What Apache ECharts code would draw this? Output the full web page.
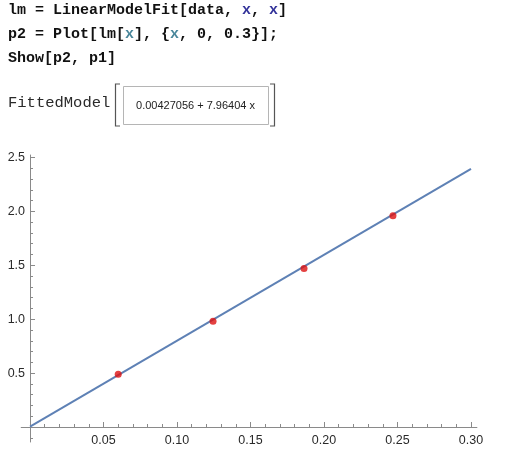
<!DOCTYPE html>
<html>
<head>
<meta charset="utf-8">
<script src="https://cdn.jsdelivr.net/npm/echarts@6/dist/echarts.min.js"></script>
<style>
html,body{margin:0;padding:0;background:#fff;}
#c{width:531px;height:449px;}
</style>
</head>
<body>
<div id="c"></div>
<script>
// ---- data ----
const pointX = [0.0600, 0.1245, 0.1864, 0.2469];
const pointY = [0.49, 0.98, 1.47, 1.96];
const fitX = [0, 0.3];
const fitY = [0.00427, 2.39348];
const xMajorTicks = [0.05, 0.10, 0.15, 0.20, 0.25, 0.30];
const xMinorTicks = [0.01,0.02,0.03,0.04,0.06,0.07,0.08,0.09,0.11,0.12,0.13,0.14,0.16,0.17,0.18,0.19,0.21,0.22,0.23,0.24,0.26,0.27,0.28,0.29];
const yMajorTicks = [0.5, 1.0, 1.5, 2.0, 2.5];
const yMinorTicks = [-0.1,0.1,0.2,0.3,0.4,0.6,0.7,0.8,0.9,1.1,1.2,1.3,1.4,1.6,1.7,1.8,1.9,2.1,2.2,2.3,2.4];
const fitLabel = "0.00427056 + 7.96404 x";
const codeLines = [
  [["lm = LinearModelFit[data, ", "k"], ["x", "v"], [", ", "k"], ["x", "v"], ["]", "k"]],
  [["p2 = Plot[lm[", "k"], ["x", "l"], ["], {", "k"], ["x", "l"], [", 0, 0.3}];", "k"]],
  [["Show[p2, p1]", "k"]]
];
const outputHead = "FittedModel";

// ---- build ----
const colors = {k: "#111111", v: "#33339a", l: "#4a879b"};
const lineYs = [12, 36, 60];
const charW = 9;
const graphics = [];
codeLines.forEach((segs, li) => {
  let col = 0;
  segs.forEach(([t, c]) => {
    graphics.push({
      type: 'text', left: 8 + col * charW, top: lineYs[li] - 9,
      style: {text: t, fill: colors[c], font: 'bold 15px "Liberation Mono", monospace'}
    });
    col += t.length;
  });
});
graphics.push({type:'text', left: 8, top: 95,
  style:{text: outputHead, fill:'#2a2a2a', font:'15.5px "Liberation Mono", monospace'}});
graphics.push({type:'polyline', shape:{points:[[120,84],[115.5,84],[115.5,126],[120,126]]},
  style:{stroke:'#555', lineWidth:1.2, fill:null}});
graphics.push({type:'polyline', shape:{points:[[270,84],[274.5,84],[274.5,126],[270,126]]},
  style:{stroke:'#555', lineWidth:1.2, fill:null}});
graphics.push({type:'rect', shape:{x:123.5, y:86.5, width:145, height:38},
  style:{stroke:'#b5b5b5', lineWidth:1, fill:'#fff'}});
graphics.push({type:'text', x:195.5, y:105.5,
  style:{text: fitLabel, fill:'#222', font:'11px "Liberation Sans", Arial, sans-serif', align:'center', verticalAlign:'middle'}});

const axisColor = '#8a8a8a';
const labelStyle = {color:'#2a2a2a', fontSize:12.5, fontFamily:'"Liberation Sans", Arial, sans-serif'};
const xMin = -0.006, xMax = 0.304, yMin = -0.139, yMax = 2.523;
// axis crossings inside the padded plot box
const gridLeft = 21.2, gridTop = 155, gridW = 455.7, gridH = 287;
const xOff = -(0 - yMin) / (yMax - yMin) * gridH;   // move x axis up to y=0
const yOff = -(0 - xMin) / (xMax - xMin) * gridW;   // move y axis right to x=0

const option = {
  animation: false,
  backgroundColor: '#fff',
  graphic: graphics,
  grid: {left: gridLeft, top: gridTop, width: gridW, height: gridH, containLabel: false, outerBoundsMode: 'none'},
  xAxis: [
    {type:'value', min:xMin, max:xMax, position:'bottom', offset:xOff,
     axisLine:{show:true, onZero:false, lineStyle:{color:axisColor, width:1}},
     axisTick:{show:true, inside:true, length:5, customValues:xMajorTicks, lineStyle:{color:axisColor}},
     axisLabel:Object.assign({show:true, margin:7, customValues:xMajorTicks, formatter:v=>v.toFixed(2)}, labelStyle),
     splitLine:{show:false}},
    {type:'value', min:xMin, max:xMax, position:'bottom', offset:xOff,
     axisLine:{show:false, onZero:false},
     axisTick:{show:true, inside:true, length:3, customValues:xMinorTicks, lineStyle:{color:axisColor}},
     axisLabel:{show:false}, splitLine:{show:false}}
  ],
  yAxis: [
    {type:'value', min:yMin, max:yMax, position:'left', offset:yOff,
     axisLine:{show:true, onZero:false, lineStyle:{color:axisColor, width:1}},
     axisTick:{show:true, inside:true, length:5, customValues:yMajorTicks, lineStyle:{color:axisColor}},
     axisLabel:Object.assign({show:true, margin:5, customValues:yMajorTicks, formatter:v=>v.toFixed(1)}, labelStyle),
     splitLine:{show:false}},
    {type:'value', min:yMin, max:yMax, position:'left', offset:yOff,
     axisLine:{show:false, onZero:false},
     axisTick:{show:true, inside:true, length:3, customValues:yMinorTicks, lineStyle:{color:axisColor}},
     axisLabel:{show:false}, splitLine:{show:false}}
  ],
  series: [
    {type:'line', xAxisIndex:0, yAxisIndex:0, data: fitX.map((x,i)=>[x, fitY[i]]),
     showSymbol:false, symbol:'none', lineStyle:{color:'#5E81B5', width:2}, z:2},
    {type:'scatter', xAxisIndex:0, yAxisIndex:0, data: pointX.map((x,i)=>[x, pointY[i]]),
     symbolSize:7, itemStyle:{color:'#dd1111'}, z:3}
  ]
};
const chart = echarts.init(document.getElementById('c'), null, {renderer:'canvas'});
chart.setOption(option);
</script>
</body>
</html>
